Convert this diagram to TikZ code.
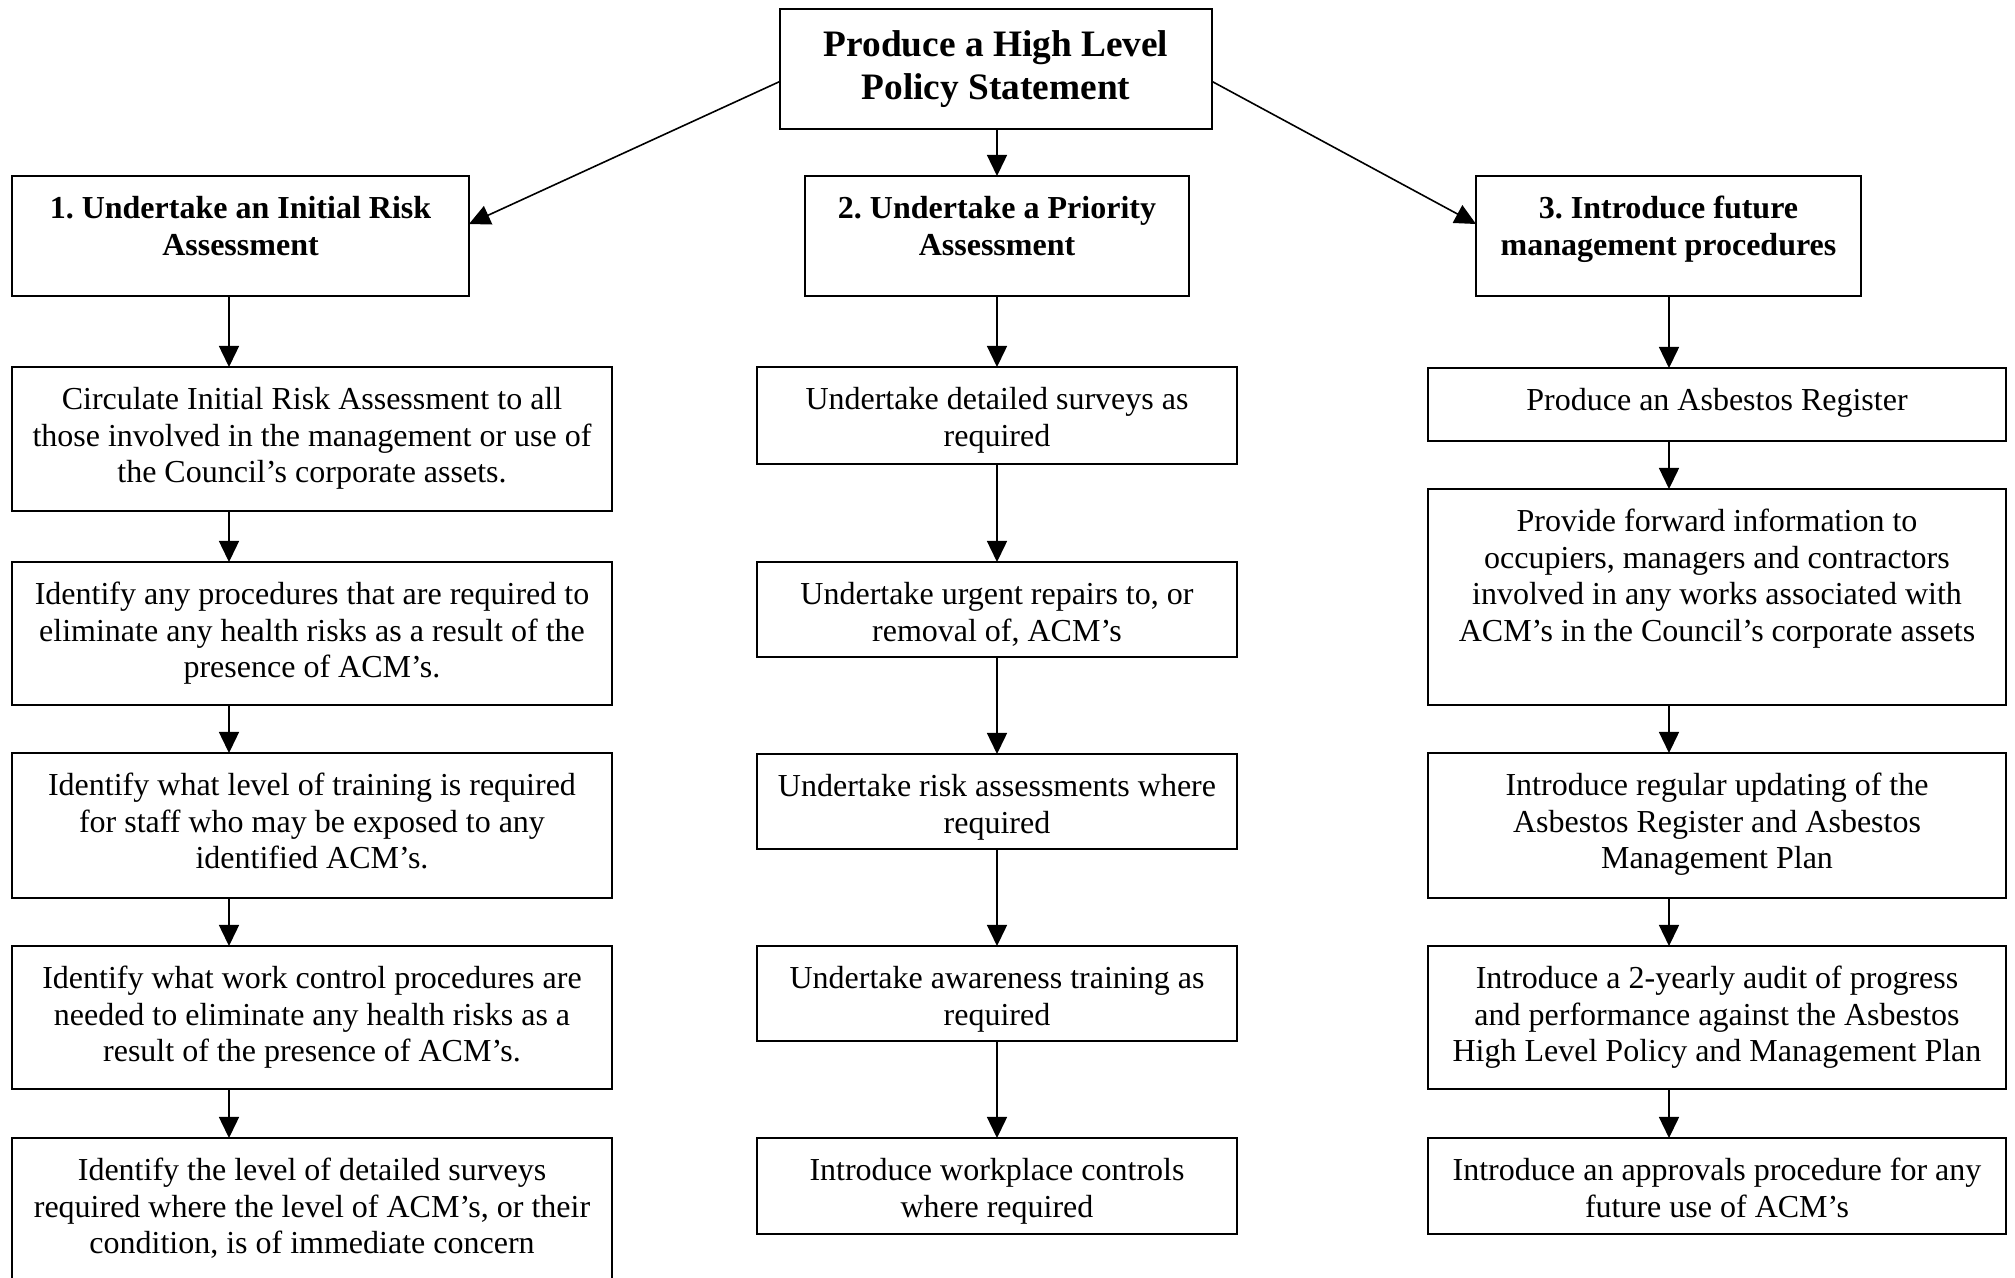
\documentclass[tikz,border=0pt]{standalone}
\usepackage{fontspec}
\setmainfont{Liberation Serif}
\usetikzlibrary{arrows.meta}
\frenchspacing
\newcommand{\flowbox}[6]{%
  \node[boxshape, minimum width={(#4-#2)*0.375pt}, minimum height={(#5-#3)*0.375pt}, anchor=north west] (#1) at (#2,#3) {};
  \node[boxtext, anchor=north] (#1t) at ([yshift=-6.2pt]#1.north) {#6};
}
\begin{document}
\begin{tikzpicture}[x=0.375pt, y=-0.375pt,
  boxshape/.style={draw=black, line width=0.6pt, rectangle, inner sep=0pt, outer sep=0pt},
  boxtext/.style={inner sep=0pt, outer sep=0pt, align=center, font=\frenchspacing\fontsize{12pt}{13.8pt}\selectfont},
  headtext/.style={boxtext, font=\frenchspacing\fontsize{12pt}{13.8pt}\selectfont\bfseries},
  arr/.style={line width=0.6pt, -{Triangle[length=7.9pt,width=7.5pt]}}]
\useasboundingbox (0,0) rectangle (2015,1277);
\clip (0,0) rectangle (2015,1277);
\coordinate (colL) at (229,0);
\coordinate (colM) at (997,0);
\coordinate (colR) at (1669,0);
% top box
\node[boxshape, minimum width={(1212-780)*0.375pt}, minimum height={(129-9)*0.375pt}, anchor=north west] (top) at (780,9) {};
\node[boxtext, anchor=north, font=\frenchspacing\fontsize{14pt}{16.1pt}\selectfont\bfseries] (topt) at ([yshift=-6.4pt]top.north) {\strut Produce a High Level\\Policy Statement};
% headings
\node[boxshape, minimum width={(469-12)*0.375pt}, minimum height={(296-176)*0.375pt}, anchor=north west] (b1) at (12,176) {};
\node[headtext, anchor=north] (b1t) at ([yshift=-6.2pt]b1.north) {\strut 1. Undertake an Initial Risk\\Assessment};
\node[boxshape, minimum width={(1189-805)*0.375pt}, minimum height={(296-176)*0.375pt}, anchor=north west] (b2) at (805,176) {};
\node[headtext, anchor=north] (b2t) at ([yshift=-6.2pt]b2.north) {\strut 2. Undertake a Priority\\Assessment};
\node[boxshape, minimum width={(1861-1476)*0.375pt}, minimum height={(296-176)*0.375pt}, anchor=north west] (b3) at (1476,176) {};
\node[headtext, anchor=north] (b3t) at ([yshift=-6.2pt]b3.north) {\strut 3. Introduce future\\management procedures};
% left column
\flowbox{L1}{12}{367}{612}{511}{\strut Circulate Initial Risk Assessment to all\\those involved in the management or use of\\the Council’s corporate assets.}
\flowbox{L2}{12}{562}{612}{705}{\strut Identify any procedures that are required to\\eliminate any health risks as a result of the\\presence of ACM’s.}
\flowbox{L3}{12}{753}{612}{898}{\strut Identify what level of training is required\\for staff who may be exposed to any\\identified ACM’s.}
\flowbox{L4}{12}{946}{612}{1089}{\strut Identify what work control procedures are\\needed to eliminate any health risks as a\\result of the presence of ACM’s.}
\flowbox{L5}{12}{1138}{612}{1284}{\strut Identify the level of detailed surveys\\required where the level of ACM’s, or their\\condition, is of immediate concern}
% middle column
\flowbox{M1}{757}{367}{1237}{464}{\strut Undertake detailed surveys as\\required}
\flowbox{M2}{757}{562}{1237}{657}{\strut Undertake urgent repairs to, or\\removal of, ACM’s}
\flowbox{M3}{757}{754}{1237}{849}{\strut Undertake risk assessments where\\required}
\flowbox{M4}{757}{946}{1237}{1041}{\strut Undertake awareness training as\\required}
\flowbox{M5}{757}{1138}{1237}{1234}{\strut Introduce workplace controls\\where required}
% right column
\flowbox{R1}{1428}{368}{2006}{441}{\strut Produce an Asbestos Register}
\flowbox{R2}{1428}{489}{2006}{705}{\strut Provide forward information to\\occupiers, managers and contractors\\involved in any works associated with\\ACM’s in the Council’s corporate assets}
\flowbox{R3}{1428}{753}{2006}{898}{\strut Introduce regular updating of the\\Asbestos Register and Asbestos\\Management Plan}
\flowbox{R4}{1428}{946}{2006}{1089}{\strut Introduce a 2-yearly audit of progress\\and performance against the Asbestos\\High Level Policy and Management Plan}
\flowbox{R5}{1428}{1138}{2006}{1234}{\strut Introduce an approvals procedure for any\\future use of ACM’s}
% connectors
\draw[arr] ([yshift=-4.65pt]top.west) -- ([yshift=4.5pt]b1.east);
\draw[arr] ([yshift=-4.65pt]top.east) -- ([yshift=4.5pt]b3.west);
\draw[arr] (top.south -| colM) -- (b2.north -| colM);
\draw[arr] (b1.south -| colL) -- (L1.north -| colL);
\draw[arr] (L1.south -| colL) -- (L2.north -| colL);
\draw[arr] (L2.south -| colL) -- (L3.north -| colL);
\draw[arr] (L3.south -| colL) -- (L4.north -| colL);
\draw[arr] (L4.south -| colL) -- (L5.north -| colL);
\draw[arr] (b2.south -| colM) -- (M1.north -| colM);
\draw[arr] (M1.south -| colM) -- (M2.north -| colM);
\draw[arr] (M2.south -| colM) -- (M3.north -| colM);
\draw[arr] (M3.south -| colM) -- (M4.north -| colM);
\draw[arr] (M4.south -| colM) -- (M5.north -| colM);
\draw[arr] (b3.south -| colR) -- (R1.north -| colR);
\draw[arr] (R1.south -| colR) -- (R2.north -| colR);
\draw[arr] (R2.south -| colR) -- (R3.north -| colR);
\draw[arr] (R3.south -| colR) -- (R4.north -| colR);
\draw[arr] (R4.south -| colR) -- (R5.north -| colR);
\end{tikzpicture}
\end{document}
